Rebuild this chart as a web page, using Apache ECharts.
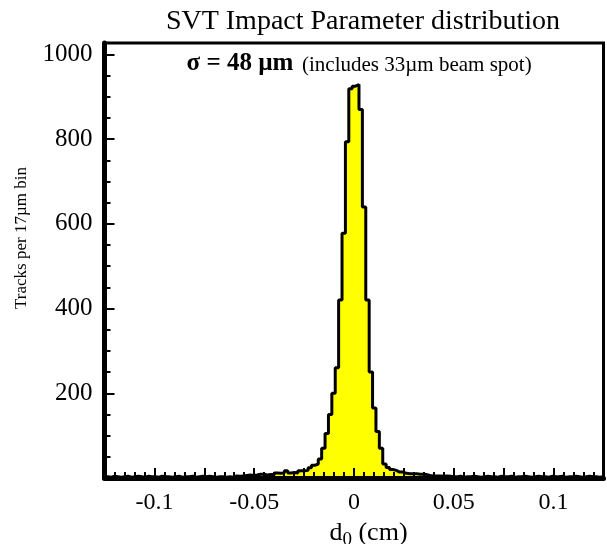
<!DOCTYPE html>
<html>
<head>
<meta charset="utf-8">
<title>SVT Impact Parameter distribution</title>
<script src="https://cdn.jsdelivr.net/npm/echarts@6/dist/echarts.min.js"></script>
<style>
html, body { margin: 0; padding: 0; background: #fff; }
#chart { width: 607px; height: 544px; }
</style>
</head>
<body>
<div id="chart"></div>
<script>
// histogram: 17 um bins starting at -0.125 cm
var binStart = -0.125;
var binWidth = 0.0017;
var counts = [
    3,2,4,3,2,3,4,2,3,4, 3,2,4,3,3,2,4,3,3,2, 3,4,2,3,3,4,2,3,4,3, 4,3,2,3,3,
    2,3,2,5,4,5,6,7,6,7, 9,9,7,8,7,12,11,12,17,12, 13,12,17,17,18,24,30,33,45,
    70,105,150,200,260,420,578,794,919,925,929,870,640,420,250,165,110,70,
    33,25,20,18,14,14,11,10,10,10, 9,9,8,6,5,5,5,4,5,4,
    3,3,4,2,3,3,4,3,2,3, 4,3,3,2,4,3,3,4,2,3, 3,4,3,2,3,4,3,3,2,4,
    3,3,4,2,3,3,4,3,2,3, 4,3,3,2,3
];
var xLabels = [-0.1, -0.05, 0, 0.05, 0.1];
var yLabels = [200, 400, 600, 800, 1000];

var serif = 'Liberation Serif';

// step outline points at the left edge of every bin, plus the last right edge
var histData = [];
for (var i = 0; i < counts.length; i++) {
    histData.push([binStart + i * binWidth, counts[i]]);
}
histData.push([binStart + counts.length * binWidth, counts[counts.length - 1]]);

var option = {
    backgroundColor: '#fff',
    animation: false,
    title: {
        text: 'SVT Impact Parameter distribution',
        left: 358,
        top: 3,
        textAlign: 'center',
        textStyle: {
            fontFamily: serif,
            fontSize: 28,
            fontWeight: 'normal',
            color: '#000'
        }
    },
    grid: {
        left: 104.5,
        right: 3.5,
        top: 43,
        bottom: 66,
        show: true,
        borderColor: '#000',
        borderWidth: 3,
        outerBoundsMode: 'none'
    },
    xAxis: {
        type: 'value',
        min: -0.125,
        max: 0.125,
        interval: 0.025,
        z: 10,
        axisLine: { onZero: false, lineStyle: { color: '#000', width: 5 } },
        axisTick: { inside: true, length: 10, lineStyle: { color: '#000', width: 2 } },
        minorTick: { show: true, splitNumber: 5, length: 6, lineStyle: { color: '#000', width: 2 } },
        splitLine: { show: false },
        minorSplitLine: { show: false },
        axisLabel: {
            margin: 13,
            color: '#000',
            fontFamily: serif,
            fontSize: 24,
            formatter: function (v) {
                var m = Math.round(v * 1000);
                for (var k = 0; k < xLabels.length; k++) {
                    if (Math.round(xLabels[k] * 1000) === m) return String(xLabels[k]);
                }
                return '';
            }
        },
        name: '{d|d}{s|0}{d| (cm)}',
        nameLocation: 'middle',
        nameGap: 39,
        nameTextStyle: {
            padding: [0, 0, 0, 29],
            rich: {
                d: { fontFamily: serif, fontSize: 26, color: '#000', lineHeight: 30, verticalAlign: 'top' },
                s: { fontFamily: serif, fontSize: 19, color: '#000', lineHeight: 19, verticalAlign: 'bottom' }
            }
        }
    },
    yAxis: [
        {
            type: 'value',
            position: 'left',
            min: 0,
            max: 1027,
            interval: 200,
            z: 10,
            axisLine: { show: true, onZero: false, lineStyle: { color: '#000', width: 5 } },
            axisTick: { show: true, inside: true, length: 10, lineStyle: { color: '#000', width: 2 } },
            splitLine: { show: false },
            axisLabel: {
                margin: 12,
                color: '#000',
                fontFamily: serif,
                fontSize: 25,
                showMinLabel: false,
                showMaxLabel: false,
                formatter: function (v) {
                    return yLabels.indexOf(Math.round(v)) >= 0 ? String(Math.round(v)) : '';
                }
            }
        },
        {
            // minor ticks every 50
            type: 'value',
            position: 'left',
            min: 0,
            max: 1027,
            interval: 50,
            z: 10,
            axisLine: { show: false, onZero: false },
            axisTick: { show: true, inside: true, length: 6, lineStyle: { color: '#000', width: 2 } },
            splitLine: { show: false },
            axisLabel: { show: false }
        }
    ],
    graphic: [
        {
            type: 'text',
            x: 22,
            y: 238,
            rotation: Math.PI / 2,
            style: {
                text: 'Tracks per 17µm bin',
                font: '17px "Liberation Serif"',
                fill: '#000',
                align: 'center',
                verticalAlign: 'middle'
            }
        },
        {
            type: 'text',
            x: 240,
            y: 64,
            style: {
                text: 'σ = 48 µm',
                font: 'bold 25px "Liberation Serif"',
                fill: '#000',
                align: 'center',
                verticalAlign: 'middle'
            }
        },
        {
            type: 'text',
            x: 302,
            y: 65,
            style: {
                text: '(includes 33µm beam spot)',
                font: '21px "Liberation Serif"',
                fill: '#000',
                align: 'left',
                verticalAlign: 'middle'
            }
        }
    ],
    series: [
        {
            name: 'd0',
            type: 'line',
            step: 'end',
            yAxisIndex: 0,
            data: histData,
            symbol: 'none',
            lineStyle: { color: '#000', width: 3 },
            areaStyle: { color: '#ffff00', opacity: 1 }
        }
    ]
};

var myChart = echarts.init(document.getElementById('chart'));
myChart.setOption(option);

window.addEventListener('resize', function () {
    myChart.resize();
});
</script>
</body>
</html>
